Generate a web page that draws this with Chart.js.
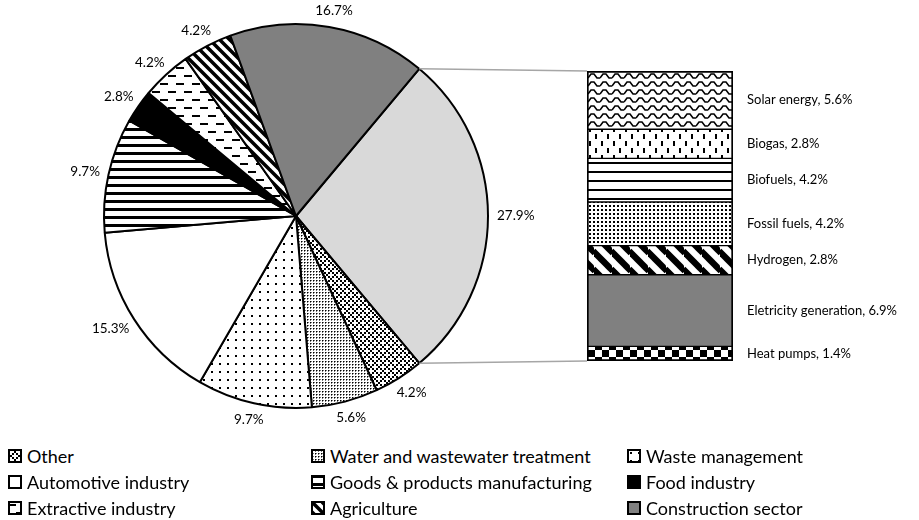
<!DOCTYPE html>
<html>
<head>
<meta charset="utf-8">
<title>Sector shares</title>
<script src="https://cdn.jsdelivr.net/npm/chart.js@4.4.0/dist/chart.umd.min.js"></script>
<style>
  body { margin: 0; background: #fff; }
  #wrap { position: relative; width: 919px; height: 520px; font-family: Lato, sans-serif; }
  #wrap canvas.layer { position: absolute; left: 0; top: 0; }
  #legend { position: absolute; left: 8px; top: 443px; display: grid; grid-template-columns: 303px 316px auto; grid-auto-rows: 26px; font-size: 18px; color: #000; }
  .item { display: flex; align-items: center; white-space: nowrap; }
  .item canvas { margin-right: 5px; }
</style>
</head>
<body>
<div id="wrap">
  <canvas id="pieChart" class="layer" width="919" height="440"></canvas>
  <canvas id="barChart" class="layer" width="919" height="440"></canvas>
  <div id="legend"></div>
</div>
<script>
// Sector shares (pie); first slice is broken down in the bar
const pieLabels = ['Energy', 'Other', 'Water and wastewater treatment', 'Waste management', 'Automotive industry',
    'Goods & products manufacturing', 'Food industry', 'Extractive industry', 'Agriculture', 'Construction sector'];
const pieValues = [27.9, 4.2, 5.6, 9.7, 15.3, 9.7, 2.8, 4.2, 4.2, 16.7];

// Breakdown of the energy slice, top to bottom
const barLabels = ['Solar energy', 'Biogas', 'Biofuels', 'Fossil fuels', 'Hydrogen', 'Eletricity generation', 'Heat pumps'];
const barValues = [5.6, 2.8, 4.2, 4.2, 2.8, 6.9, 1.4];

// Build a repeating black/white fill from a small tile
const patternCtx = document.createElement('canvas').getContext('2d');
function makePattern(w, h, draw) {
    const c = document.createElement('canvas');
    c.width = w;
    c.height = h;
    const g = c.getContext('2d');
    g.fillStyle = '#fff';
    g.fillRect(0, 0, w, h);
    g.fillStyle = '#000';
    g.strokeStyle = '#000';
    draw(g, w, h);
    return patternCtx.createPattern(c, 'repeat');
}

// "\" stripes
function diagonal(size, width) {
    return makePattern(size, size, (g, s) => {
        g.lineWidth = width;
        [-s, 0, s].forEach(k => {
            g.beginPath();
            g.moveTo(-1, k - 1);
            g.lineTo(s + 1, s + k + 1);
            g.stroke();
        });
    });
}

const fills = {
    checkDots: makePattern(8, 8, g => {
        for (let y = 0; y < 8; y += 2)
            for (let x = 0; x < 8; x += 2)
                if (((x + y) / 2) % 2 === 0)
                    g.fillRect(x, y, 2, 2);
        g.fillStyle = '#fff';
        g.fillRect(2, 2, 2, 2);
        g.fillRect(6, 6, 2, 2);
    }),
    denseDots: makePattern(3, 3, g => {
        g.fillRect(1, 1, 1, 1);
        g.fillStyle = '#777';
        g.fillRect(2, 1, 1, 1);
        g.fillRect(1, 2, 1, 1);
    }),
    sparseDots: makePattern(8, 8, g => g.fillRect(3, 3, 2, 2)),
    heavyLines: makePattern(8, 8, g => g.fillRect(0, 0, 8, 3)),
    dashes: makePattern(16, 16, g => {
        g.fillRect(0, 3, 8, 2);
        g.fillRect(8, 11, 8, 2);
    }),
    stripes: diagonal(10, 3.5),
    wideStripes: diagonal(18, 6.5),
    waves: makePattern(12, 8, g => {
        g.lineWidth = 1.6;
        g.beginPath();
        g.moveTo(0, 6);
        g.lineTo(3, 2);
        g.lineTo(6, 2);
        g.lineTo(9, 6);
        g.lineTo(12, 6);
        g.stroke();
    }),
    vDashes: makePattern(12, 14, g => {
        g.fillRect(1, 1, 2, 5);
        g.fillRect(7, 8, 2, 5);
    }),
    thinLines: makePattern(8, 9, g => g.fillRect(0, 0, 8, 2)),
    fineDots: makePattern(4, 4, g => g.fillRect(1, 1, 2, 2)),
    checker: makePattern(14, 14, g => {
        g.fillRect(0, 0, 7, 7);
        g.fillRect(7, 7, 7, 7);
    })
};

const pieFills = ['#d9d9d9', fills.checkDots, fills.denseDots, fills.sparseDots, '#ffffff',
    fills.heavyLines, '#000000', fills.dashes, fills.stripes, '#808080'];
const barFills = [fills.waves, fills.vDashes, fills.thinLines, fills.fineDots, fills.wideStripes, '#808080', fills.checker];

const pieTotal = pieValues.reduce((a, b) => a + b, 0);
const barTotal = barValues.reduce((a, b) => a + b, 0);

// Percentages just outside each slice
const pieLabelPlugin = {
    id: 'pieLabels',
    afterDatasetsDraw(chart) {
        const ctx = chart.ctx;
        const arcs = chart.getDatasetMeta(0).data;
        ctx.save();
        ctx.font = '13.5px Lato';
        ctx.fillStyle = '#000';
        ctx.textAlign = 'center';
        ctx.textBaseline = 'middle';
        arcs.forEach((arc, i) => {
            const mid = (arc.startAngle + arc.endAngle) / 2;
            const dx = Math.cos(mid);
            const dy = Math.sin(mid);
            const text = pieValues[i].toFixed(1) + '%';
            const w = ctx.measureText(text).width;
            const r = arc.outerRadius + 9;
            ctx.fillText(text, arc.x + dx * (r + w / 2), arc.y + dy * (r + 8));
        });
        ctx.restore();
    }
};

const pieChart = new Chart(document.getElementById('pieChart'), {
    type: 'pie',
    data: {
        labels: pieLabels,
        datasets: [{
                data: pieValues,
                backgroundColor: pieFills,
                borderColor: '#000',
                borderWidth: 2
            }]
    },
    options: {
        responsive: false,
        animation: false,
        events: [],
        // centre the first slice on the right-hand side
        rotation: 90 - pieValues[0] / pieTotal * 180,
        layout: {padding: {left: 103, right: 430, top: 23, bottom: 31}},
        plugins: {
            legend: {display: false},
            tooltip: {enabled: false}
        }
    },
    plugins: [pieLabelPlugin]
});

// Grey lines joining the first slice to the bar
const connectorPlugin = {
    id: 'connectors',
    beforeDatasetsDraw(chart) {
        const arc = pieChart.getDatasetMeta(0).data[0];
        const topBar = chart.getDatasetMeta(chart.data.datasets.length - 1).data[0];
        const bottomBar = chart.getDatasetMeta(0).data[0];
        const left = topBar.x - topBar.width / 2;
        const R = arc.outerRadius;
        const ctx = chart.ctx;
        ctx.save();
        ctx.strokeStyle = '#a6a6a6';
        ctx.lineWidth = 1.5;
        ctx.beginPath();
        ctx.moveTo(arc.x + R * Math.cos(arc.startAngle), arc.y + R * Math.sin(arc.startAngle));
        ctx.lineTo(left, topBar.y);
        ctx.moveTo(arc.x + R * Math.cos(arc.endAngle), arc.y + R * Math.sin(arc.endAngle));
        ctx.lineTo(left, bottomBar.base);
        ctx.stroke();
        ctx.restore();
    }
};

// Category names and values to the right of the bar
const barLabelPlugin = {
    id: 'barLabels',
    afterDatasetsDraw(chart) {
        const ctx = chart.ctx;
        ctx.save();
        ctx.font = '13px Lato';
        ctx.fillStyle = '#000';
        ctx.textAlign = 'left';
        ctx.textBaseline = 'middle';
        chart.data.datasets.forEach((ds, i) => {
            const el = chart.getDatasetMeta(i).data[0];
            const text = ds.label + ', ' + ds.data[0].toFixed(1) + '%';
            ctx.fillText(text, el.x + el.width / 2 + 14, (el.y + el.base) / 2);
        });
        ctx.restore();
    }
};

// stacked bottom-up, so the last segment goes first
const barOrder = barLabels.map((_, i) => i).reverse();
const barChart = new Chart(document.getElementById('barChart'), {
    type: 'bar',
    data: {
        labels: ['Energy'],
        datasets: barOrder.map((i, n) => ({
                label: barLabels[i],
                data: [barValues[i]],
                backgroundColor: barFills[i],
                borderColor: '#000',
                borderWidth: {left: 2, right: 2, top: n === barOrder.length - 1 ? 2 : 1, bottom: n === 0 ? 2 : 1},
                borderSkipped: false,
                barPercentage: 1,
                categoryPercentage: 1
            }))
    },
    options: {
        responsive: false,
        animation: false,
        events: [],
        layout: {padding: {left: 587, right: 186, top: 71, bottom: 79}},
        scales: {
            x: {stacked: true, display: false},
            y: {stacked: true, display: false, min: 0, max: barTotal}
        },
        plugins: {
            legend: {display: false},
            tooltip: {enabled: false}
        }
    },
    plugins: [connectorPlugin, barLabelPlugin]
});

// Legend for the pie sectors (first slice excluded)
const legend = document.getElementById('legend');
pieLabels.forEach((name, i) => {
    if (i === 0)
        return;
    const item = document.createElement('div');
    item.className = 'item';
    const sw = document.createElement('canvas');
    sw.width = 14;
    sw.height = 14;
    const g = sw.getContext('2d');
    g.fillStyle = pieFills[i];
    g.fillRect(0, 0, 14, 14);
    g.strokeStyle = '#000';
    g.lineWidth = 2;
    g.strokeRect(1, 1, 12, 12);
    item.appendChild(sw);
    const span = document.createElement('span');
    span.textContent = name;
    item.appendChild(span);
    legend.appendChild(item);
});
</script>
</body>
</html>
